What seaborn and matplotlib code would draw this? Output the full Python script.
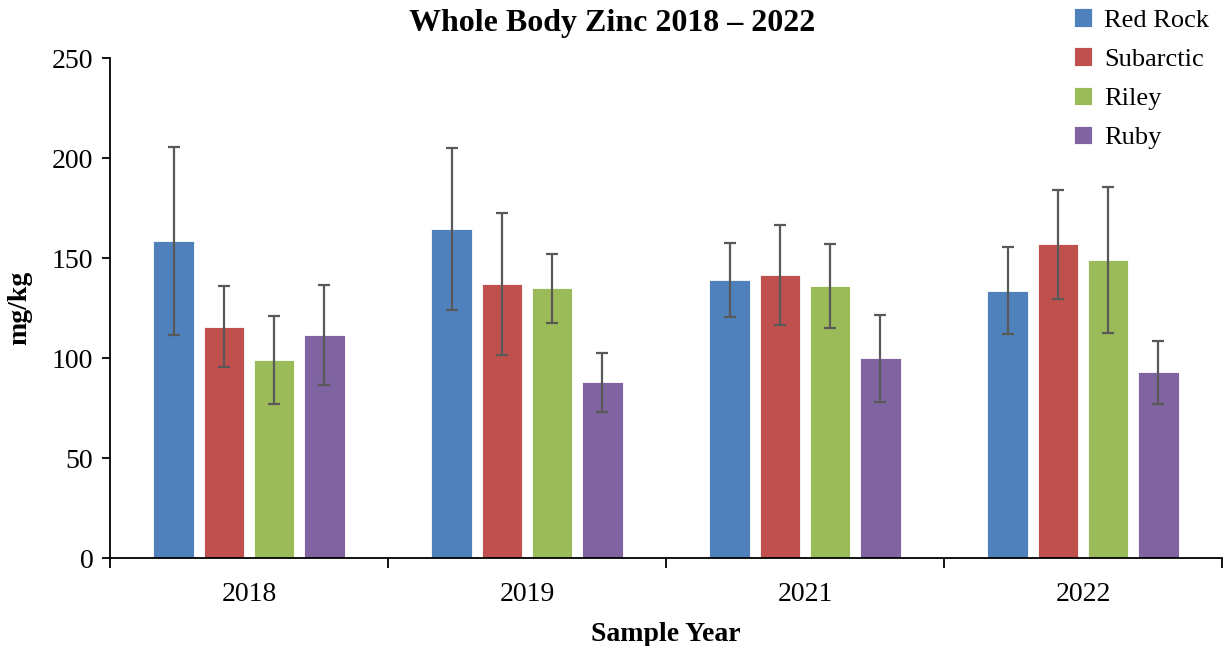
import numpy as np
import pandas as pd
import matplotlib
matplotlib.use("Agg")
import matplotlib.pyplot as plt
import seaborn as sns

# data
years = ["2018", "2019", "2021", "2022"]
sites = ["Red Rock", "Subarctic", "Riley", "Ruby"]
red_rock = [158.5, 164.5, 139.0, 133.7]
subarctic = [115.7, 136.8, 141.3, 156.8]
riley = [99.0, 134.8, 136.0, 149.2]
ruby = [111.5, 87.8, 99.8, 92.8]
red_rock_err = [47.0, 40.3, 18.7, 21.6]
subarctic_err = [20.3, 35.5, 25.0, 27.2]
riley_err = [22.2, 17.4, 21.0, 36.5]
ruby_err = [25.0, 14.7, 21.7, 15.9]
colors = ["#4F81BD", "#C0504D", "#9BBB59", "#8064A2"]

means = [red_rock, subarctic, riley, ruby]
errs = [red_rock_err, subarctic_err, riley_err, ruby_err]
rows = []
for s, m, e in zip(sites, means, errs):
    for y, v, ee in zip(years, m, e):
        rows.append({"Year": y, "Site": s, "Zinc": v, "Err": ee})
df = pd.DataFrame(rows)

sns.set_style("ticks")
plt.rcParams["font.family"] = ["Liberation Serif", "DejaVu Serif"]
plt.rcParams.update({"text.color": "black", "axes.labelcolor": "black",
                     "xtick.color": "black", "ytick.color": "black",
                     "axes.edgecolor": "black"})

fig = plt.figure(figsize=(12.25, 6.46), dpi=100)
ax = fig.add_axes([110 / 1225, 1 - 558 / 646, 1112 / 1225, 500 / 646])

sns.barplot(data=df, x="Year", y="Zinc", hue="Site", order=years, hue_order=sites,
            palette=colors, saturation=1, width=0.724, gap=0.2, errorbar=None, ax=ax,
            edgecolor="white", linewidth=0.6, legend=True)

# error bars on the centre of each bar
for cont, s in zip(ax.containers, sites):
    sub = df[df["Site"] == s].set_index("Year").loc[years]
    xs = [p.get_x() + p.get_width() / 2 for p in cont.patches]
    ax.errorbar(xs, sub["Zinc"], yerr=sub["Err"], fmt="none", ecolor="#595959",
                elinewidth=1.6, capsize=4.5, capthick=1.6, zorder=5)

ax.set_ylim(0, 250)
ax.set_xlim(-0.5, 3.5)
ax.set_yticks([0, 50, 100, 150, 200, 250])
ax.set_xticks(np.arange(-0.5, 4.0, 1.0), minor=True)
ax.tick_params(axis="x", which="major", length=0, labelsize=20, pad=17)
ax.tick_params(axis="x", which="minor", length=7, width=1.3, direction="out")
ax.tick_params(axis="y", length=6, width=1.3, labelsize=20, pad=6)
for sp in ["top", "right"]:
    ax.spines[sp].set_visible(False)
for sp in ["left", "bottom"]:
    ax.spines[sp].set_linewidth(1.3)

ax.set_xlabel("Sample Year", fontsize=20, fontweight="bold", labelpad=11)
ax.set_ylabel("mg/kg", fontsize=20, fontweight="bold", labelpad=14)
fig.suptitle("Whole Body Zinc 2018 \u2013 2022", fontsize=23, fontweight="bold",
             x=0.5, y=0.986)

handles, labels = ax.get_legend_handles_labels()
ax.get_legend().remove()
fig.legend(handles, labels, loc="upper right", bbox_to_anchor=(1.0, 1.012),
           frameon=False, fontsize=19, handlelength=0.7, handleheight=0.7,
           handletextpad=0.45, labelspacing=0.6, borderaxespad=0.2)

fig.savefig("out.png", dpi=100)
